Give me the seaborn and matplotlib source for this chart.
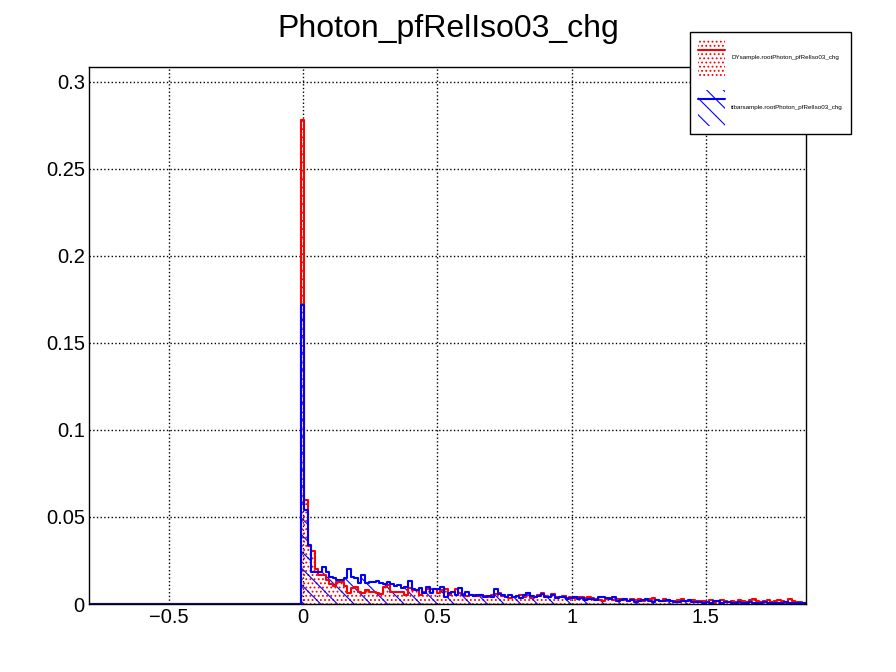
import numpy as np
import pandas as pd
import seaborn as sns
from matplotlib import pyplot as plt
from matplotlib.patches import Patch
from matplotlib.lines import Line2D

# histogram range and binning (200 bins)
x_lo, x_hi, n_bins = -0.797, 1.873, 200

# bins below the peak are empty for both samples
empty_bins = 59

dy_peak = 0.278
dy_tail = [
    0.060, 0.0333, 0.0305, 0.0199, 0.0167, 0.0167, 0.0138, 0.0115, 0.0103, 0.0128,
    0.0128, 0.0103, 0.0061, 0.0090, 0.0096, 0.0071, 0.0061, 0.0080, 0.0071, 0.0071,
    0.0061, 0.0055, 0.0096, 0.0109, 0.0071, 0.0071, 0.0071, 0.0071, 0.0052, 0.0090,
    0.0080, 0.0080, 0.0052, 0.0071, 0.0084, 0.0084, 0.0084, 0.0061, 0.0080, 0.0084,
    0.0052, 0.0071, 0.0084, 0.0061, 0.0058, 0.0046, 0.0052, 0.0052, 0.0046, 0.0052,
    0.0046, 0.0042, 0.0050, 0.0055, 0.0061, 0.0046, 0.0038, 0.0033, 0.0038, 0.0046,
    0.0050, 0.0042, 0.0061, 0.0033, 0.0038,
    0.0052, 0.0061, 0.0046, 0.0042, 0.0055, 0.0042, 0.0038, 0.0046, 0.0033, 0.0042,
    0.0036, 0.0042, 0.0038, 0.0033, 0.0042,
    0.0033, 0.0027, 0.0023, 0.0019, 0.0027, 0.0033, 0.0023, 0.0027, 0.0030, 0.0023,
    0.0019, 0.0027, 0.0023, 0.0030, 0.0019,
    0.0023, 0.0027, 0.0033, 0.0023, 0.0019, 0.0027, 0.0023, 0.0019, 0.0015, 0.0023,
    0.0027, 0.0019, 0.0015, 0.0023, 0.0019,
    0.0015, 0.0019, 0.0013, 0.0023, 0.0008, 0.0019, 0.0023, 0.0015, 0.0010, 0.0019,
    0.0013, 0.0023, 0.0019, 0.0013, 0.0023,
    0.0027, 0.0019, 0.0010, 0.0015, 0.0023, 0.0013, 0.0019, 0.0023, 0.0015, 0.0010,
    0.0027, 0.0019, 0.0013, 0.0010, 0.0008,
]

tt_peak = 0.172
tt_tail = [
    0.054, 0.034, 0.0186, 0.0186, 0.0183, 0.0211, 0.0186, 0.0157, 0.0150, 0.0138,
    0.0140, 0.0151, 0.0199, 0.0157, 0.0147, 0.0119, 0.0167, 0.0123, 0.0128, 0.0128,
    0.0132, 0.0123, 0.0115, 0.0128, 0.0115, 0.0103, 0.0109, 0.0090, 0.0100, 0.0132,
    0.0084, 0.0080, 0.0090, 0.0065, 0.0096, 0.0061, 0.0084, 0.0084, 0.0096, 0.0042,
    0.0061, 0.0071, 0.0052, 0.0090, 0.0052, 0.0071, 0.0052, 0.0046, 0.0050, 0.0052,
    0.0042, 0.0046, 0.0042, 0.0084, 0.0055, 0.0052, 0.0038, 0.0052, 0.0038, 0.0046,
    0.0033, 0.0052, 0.0061, 0.0046, 0.0038,
    0.0046, 0.0055, 0.0042, 0.0038, 0.0050, 0.0033, 0.0042, 0.0038, 0.0027, 0.0033,
    0.0038, 0.0027, 0.0033, 0.0023, 0.0030,
    0.0027, 0.0023, 0.0038, 0.0042, 0.0033, 0.0027, 0.0038, 0.0019, 0.0023, 0.0027,
    0.0019, 0.0023, 0.0013, 0.0019, 0.0023,
    0.0027, 0.0019, 0.0013, 0.0023, 0.0019, 0.0015, 0.0023, 0.0019, 0.0013, 0.0010,
    0.0019, 0.0015, 0.0023, 0.0013, 0.0010,
    0.0013, 0.0008, 0.0010, 0.0004, 0.0019, 0.0015, 0.0008, 0.0010, 0.0013, 0.0004,
    0.0008, 0.0010, 0.0006, 0.0008, 0.0013,
    0.0004, 0.0008, 0.0006, 0.0010, 0.0004, 0.0008, 0.0006, 0.0004, 0.0008, 0.0013,
    0.0006, 0.0004, 0.0008, 0.0004, 0.0006,
]

dy_values = [0.0] * empty_bins + [dy_peak] + dy_tail
tt_values = [0.0] * empty_bins + [tt_peak] + tt_tail

x_ticks = [-0.5, 0, 0.5, 1, 1.5]
x_tick_labels = ['\u22120.5', '0', '0.5', '1', '1.5']
y_ticks = [0, 0.05, 0.1, 0.15, 0.2, 0.25, 0.3]
y_tick_labels = ['0', '0.05', '0.1', '0.15', '0.2', '0.25', '0.3']

title = 'Photon_pfRelIso03_chg'
dy_label = 'DYsample.rootPhoton_pfRelIso03_chg'
tt_label = 'ttbarsample.rootPhoton_pfRelIso03_chg'

sns.set_style('white')
plt.rcParams['font.family'] = ['Liberation Sans', 'DejaVu Sans']
plt.rcParams['text.color'] = 'black'
plt.rcParams['hatch.linewidth'] = 0.8

edges = np.linspace(x_lo, x_hi, n_bins + 1)
centers = (edges[:-1] + edges[1:]) / 2
hist_df = pd.DataFrame({'x': centers, 'dy': dy_values, 'tt': tt_values})

fig = plt.figure(figsize=(8.96, 6.72), dpi=100)
ax = fig.add_axes([89 / 896, 68 / 672, 717 / 896, 537 / 672])

for col_name, col, hatch in [('dy', 'red', '....'), ('tt', 'blue', '\\\\')]:
    sns.histplot(data=hist_df, x='x', weights=col_name, bins=edges.tolist(),
                 element='step', fill=True, color=col, hatch=hatch, linewidth=0, ax=ax)
    fill = ax.collections[-1]
    fill.set_facecolor('none')
    fill.set_edgecolor(col)
    fill.set_linewidth(0)
    sns.histplot(data=hist_df, x='x', weights=col_name, bins=edges.tolist(),
                 element='step', fill=False, color=col, linewidth=1.5, ax=ax)

ax.set_xlim(x_lo, x_hi)
ax.set_ylim(0, 0.3086)
ax.set_xlabel('')
ax.set_ylabel('')
ax.set_xticks(x_ticks)
ax.set_xticklabels(x_tick_labels)
ax.set_yticks(y_ticks)
ax.set_yticklabels(y_tick_labels)
ax.set_xticks(np.arange(-0.7, 1.87, 0.1), minor=True)
ax.set_yticks(np.arange(0, 0.305, 0.01), minor=True)
ax.tick_params(axis='both', which='both', direction='in', colors='black',
               labelcolor='black', labelsize=14.5, width=1)
ax.tick_params(axis='x', which='major', length=11.5, pad=3)
ax.tick_params(axis='x', which='minor', length=6)
ax.tick_params(axis='y', which='major', length=15.6, pad=3)
ax.tick_params(axis='y', which='minor', length=7.7)
ax.grid(True, which='major', color='black', linestyle=':', linewidth=1)
for sp in ax.spines.values():
    sp.set_color('black')
    sp.set_linewidth(1)
    sp.set_visible(True)

fig.text(0.5, 1 - 37 / 672, title, ha='center', va='baseline', fontsize=23, color='black')

handles = [
    (Patch(facecolor='none', edgecolor='red', hatch='....', linewidth=0),
     Line2D([], [], color='red', linewidth=1.5)),
    (Patch(facecolor='none', edgecolor='blue', hatch='\\\\', linewidth=0),
     Line2D([], [], color='blue', linewidth=1.5)),
]
leg = fig.legend(handles, [dy_label, tt_label], loc='upper left',
                 bbox_to_anchor=(690 / 896, 1 - 32 / 672), fontsize=4.5,
                 handlelength=4.3, handleheight=8.5, labelspacing=2.2,
                 borderpad=1.3, handletextpad=1.0, borderaxespad=0,
                 fancybox=False, framealpha=1, edgecolor='black')
leg.get_frame().set_linewidth(1)

fig.savefig('out.png', dpi=100)
